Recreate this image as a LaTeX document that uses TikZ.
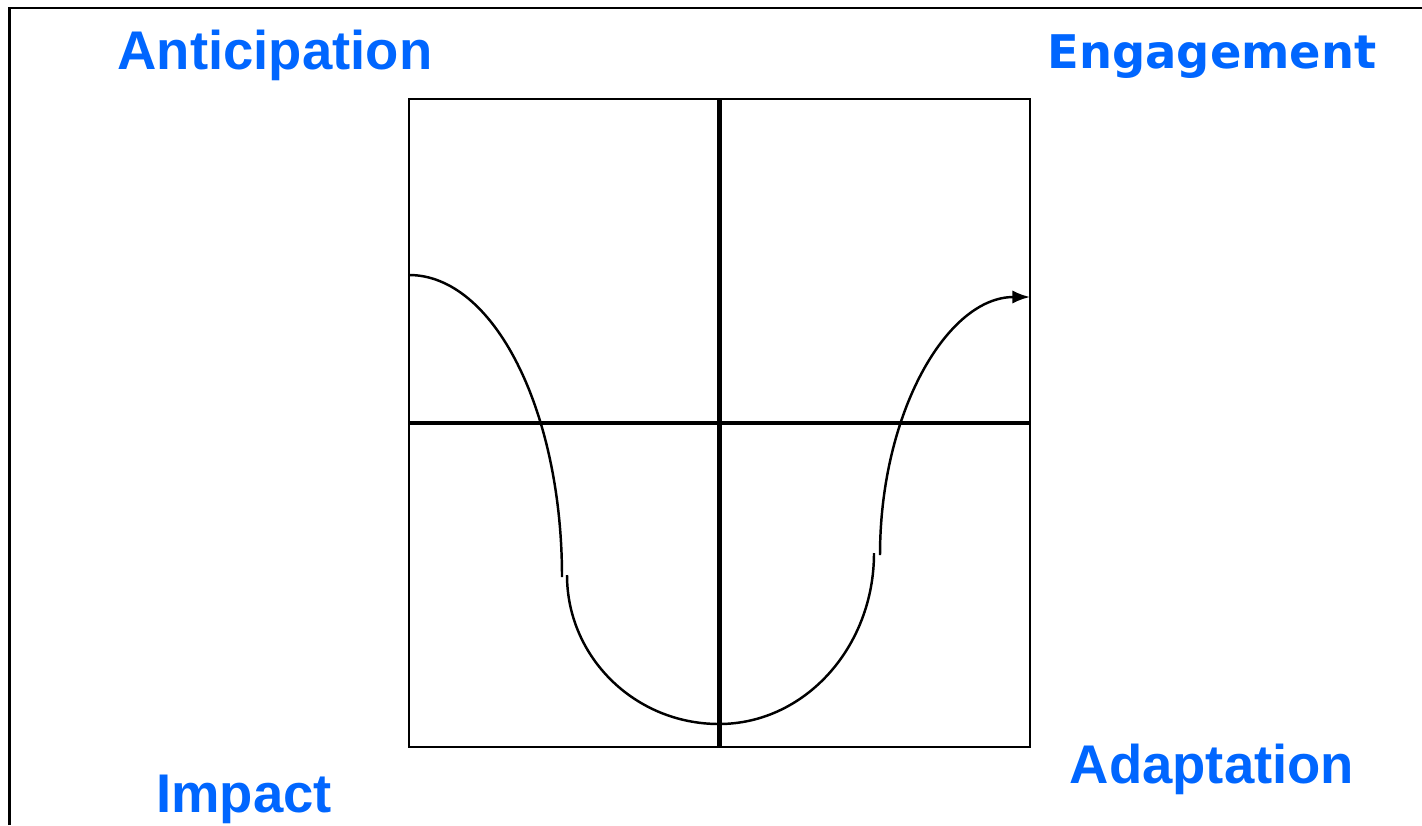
\documentclass[tikz,border=0pt]{standalone}
\usepackage{fontspec}
\setmainfont{Liberation Sans}
\newfontfamily\dejavu{DejaVu Sans}
\usepackage{xcolor}
\usetikzlibrary{arrows.meta,positioning}
\definecolor{stageblue}{RGB}{0,102,255}

\begin{document}
\begin{tikzpicture}[
    x=0.02cm, y=-0.02cm,
    stage/.style={text=stageblue, font=\fontsize{31}{36}\selectfont\bfseries, inner sep=0pt, anchor=base},
    frame/.style={line width=1.7pt},
    quadbox/.style={draw, line width=1.2pt, inner sep=0pt, minimum width=12.42cm, minimum height=12.96cm},
    axis/.style={line width=2.8pt},
    curve/.style={line width=1.4pt}
]
\useasboundingbox (0,0) rectangle (1422,825);
\draw[frame] (9.5,825) -- (9.5,8) -- (1422,8);

\node[quadbox] (quad) at (719.5,423) {};
\draw[axis] (quad.north) -- (quad.south);
\draw[axis] (quad.west) -- (quad.east);

\coordinate (a0) at (409,275);
\coordinate (a1) at (562,577);
\coordinate (b0) at (567,575);
\coordinate (b1) at (719,724);
\coordinate (b2) at (874,553);
\coordinate (c0) at (880,555);
\coordinate (c1) at (1030,297);

\draw[curve] (a0) .. controls +(84.5,0) and +(0,-167) .. (a1);
\draw[curve] (b0) .. controls +(0,82.3) and +(-84,0) .. (b1) .. controls +(85.6,0) and +(0,94.4) .. (b2);
\draw[curve, -{Latex[length=10pt,width=7.5pt]}] (c0) .. controls +(0,-142) and +(-83,0) .. (c1);

\node[stage] (antic) at (275,69) {Anticipation};
\node[stage, font=\dejavu\fontsize{26.4}{32}\selectfont\bfseries] (engage) at (1212,68) {Engagement};
\node[stage] (impact) at (244,812) {Impact};
\node[stage] (adapt) at (1212,783) {Adaptation};
\end{tikzpicture}
\end{document}
